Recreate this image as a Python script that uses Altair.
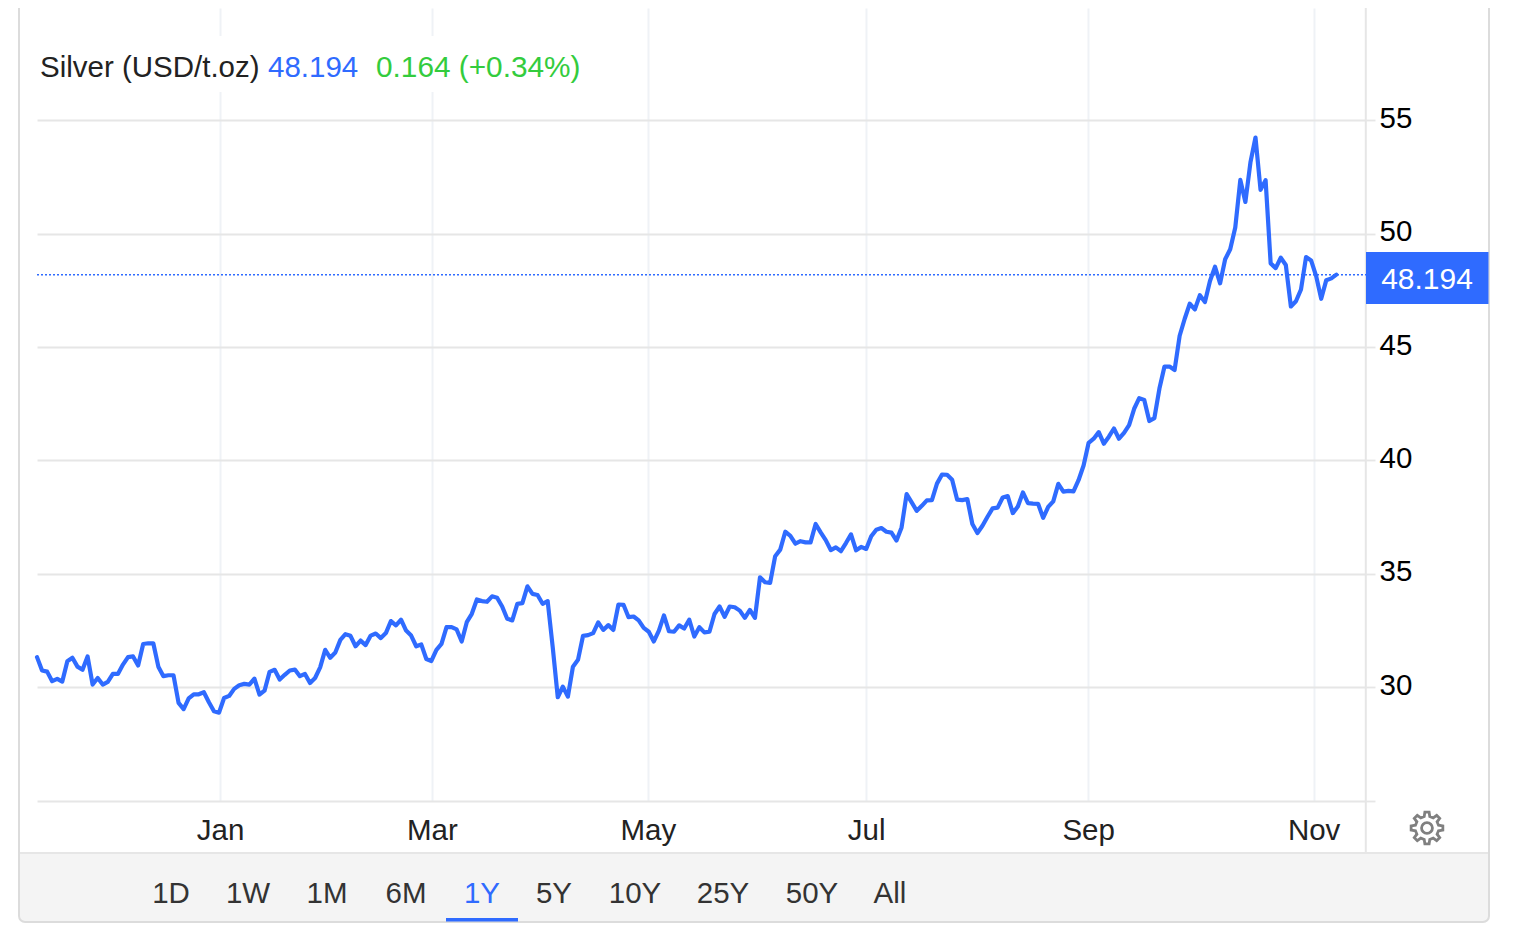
import math
import altair as alt
import pandas as pd

# ---- data -----------------------------------------------------------------
silver_close = [
    31.33, 30.74, 30.69, 30.27, 30.37, 30.25, 31.15, 31.30, 30.91, 30.77,
    31.36, 30.12, 30.41, 30.12, 30.24, 30.59, 30.59, 31.00, 31.33, 31.36,
    30.96, 31.91, 31.94, 31.94, 30.91, 30.49, 30.53, 30.53, 29.31, 29.04,
    29.51, 29.69, 29.69, 29.78, 29.34, 28.94, 28.88, 29.53, 29.62, 29.93,
    30.09, 30.15, 30.12, 30.38, 29.68, 29.85, 30.68, 30.77, 30.34, 30.55,
    30.74, 30.78, 30.49, 30.59, 30.19, 30.41, 30.88, 31.65, 31.30, 31.53,
    32.09, 32.34, 32.27, 31.81, 32.06, 31.86, 32.28,
    32.37, 32.17, 32.39, 32.92, 32.73, 32.98, 32.50, 32.28, 31.81, 31.89,
    31.25, 31.16, 31.65, 31.91, 32.65, 32.65, 32.55, 32.02, 32.87, 33.24,
    33.87, 33.80, 33.77, 34.01, 33.95, 33.56, 33.02, 32.95, 33.68, 33.71,
    34.45, 34.12, 34.07, 33.68, 33.80, 31.77, 29.56, 30.03, 29.59, 30.91,
    31.21, 32.27, 32.30, 32.39, 32.86, 32.53, 32.74, 32.53, 33.65, 33.64,
    33.09, 33.12, 32.95, 32.62, 32.45, 32.02, 32.50, 33.17, 32.47, 32.45,
    32.73, 32.59, 32.98, 32.24, 32.65,
    32.42, 32.45, 33.23, 33.56, 33.11, 33.56, 33.53, 33.38, 33.06, 33.41, 33.06,
    34.85, 34.63, 34.60, 35.78, 36.07, 36.86, 36.68, 36.33, 36.44, 36.39,
    36.39, 37.20, 36.83, 36.49, 36.05, 36.17, 36.00, 36.36, 36.74, 36.04,
    36.19, 36.10, 36.66, 36.95, 37.02, 36.86, 36.82, 36.47, 37.05, 38.52,
    38.15, 37.78, 38.00, 38.24, 38.25, 38.98, 39.38, 39.37, 39.15, 38.27,
    38.25, 38.30, 37.20, 36.80, 37.12, 37.52, 37.89, 37.92, 38.37, 38.43,
    37.68, 37.97, 38.59, 38.12,
    38.10, 38.09, 37.47, 37.95, 38.20, 38.97, 38.63, 38.66, 38.64, 39.13,
    39.78, 40.78, 40.96, 41.25, 40.74, 41.05, 41.41, 40.96, 41.22, 41.56,
    42.28, 42.75, 42.67, 41.74, 41.87, 43.17, 44.14, 44.14, 43.99,
    45.50, 46.25,
    46.91, 46.66, 47.29, 46.99, 47.91, 48.54, 47.81, 48.87, 49.31, 50.27,
    52.37, 51.40, 53.14, 54.24, 51.93, 52.36, 48.69, 48.48, 48.94, 48.62,
    46.79, 47.02, 47.54, 48.97, 48.82, 48.13, 47.13, 47.95, 48.03, 48.194,
]
last_price = 48.194
y_ticks = [25, 30, 35, 40, 45, 50, 55]
month_labels = ["Jan", "Mar", "May", "Jul", "Sep", "Nov"]
month_sessions = [36.2, 78.1, 120.8, 164.0, 207.9, 252.5]
range_labels = ["1D", "1W", "1M", "6M", "1Y", "5Y", "10Y", "25Y", "50Y", "All"]
title_parts = ["Silver (USD/t.oz)", "48.194", "0.164 (+0.34%)"]

# ---- layout / styling ------------------------------------------------------
FONT = "Liberation Sans"
FS = 29.5
BLUE = "#2f6bff"
GREEN = "#33cc3d"
GRID_H = "#e6e6e6"
GRID_V = "#eff2f6"
FRAME = "#dcdcdc"
X0, Y0, W, H = 37, 8, 1329, 792.7
range_px = [171, 248, 327, 406, 482, 554, 635, 723, 812, 890]
title_px = [40, 268, 376]
title_sizes = [FS, FS, 29.8]
title_colors = ["#222222", BLUE, GREEN]
blank = alt.Data(values=[{}])


def px(x):
    return alt.value(x - X0)


def py(y):
    return alt.value(y - Y0)


def box(x1, x2, y1, y2, **kw):
    return alt.Chart(blank).mark_rect(**kw).encode(x=px(x1), x2=px(x2), y=py(y1), y2=py(y2))


def rule(x1, x2, y1, y2, color, width=1.5):
    return alt.Chart(blank).mark_rule(color=color, strokeWidth=width).encode(
        x=px(x1), x2=px(x2), y=py(y1), y2=py(y2))


def label(text, x, y, color, align="center", size=FS):
    return alt.Chart(blank).mark_text(
        font=FONT, fontSize=size, color=color, align=align, baseline="middle"
    ).encode(x=px(x), y=py(y), text=alt.value(text))


def gear_path(teeth=8, outer=1.0, root=0.74, hole=0.34):
    pts = []
    step = 2 * math.pi / teeth
    for k in range(teeth):
        a = k * step - math.pi / 2
        for da, r in [(-0.30, root), (-0.17, outer), (0.17, outer), (0.30, root)]:
            t = a + da * step * 1.0
            pts.append((r * math.cos(t), r * math.sin(t)))
    d = "M" + " L".join(f"{x:.3f},{y:.3f}" for x, y in pts) + " Z "
    d += f"M{hole:.3f},0 A{hole:.3f},{hole:.3f} 0 1,0 {-hole:.3f},0 A{hole:.3f},{hole:.3f} 0 1,0 {hole:.3f},0 Z"
    return d


df = pd.DataFrame({"session": range(len(silver_close)), "price": silver_close})

x_enc = alt.X(
    "session:Q",
    scale=alt.Scale(domain=[0, W / 5.056], nice=False, zero=False),
    axis=alt.Axis(
        values=month_sessions,
        labelExpr=f"{month_labels}[indexof({month_sessions}, datum.value)]",
        title=None, domain=False, ticks=False, grid=True, gridColor=GRID_V, gridWidth=2,
        labelFont=FONT, labelFontSize=FS, labelColor="#222222", labelPadding=16,
        labelAngle=0, labelAlign="center", labelOverlap=False, labelFlush=False,
    ),
)
y_enc = alt.Y(
    "price:Q",
    scale=alt.Scale(domain=[25, 59.95], nice=False, zero=False),
    axis=alt.Axis(
        orient="right", values=y_ticks,
        labelExpr="datum.value == 25 ? '' : datum.label",
        title=None, domain=False, ticks=True, tickSize=9, tickColor=GRID_H, tickWidth=1.8,
        grid=True, gridColor=GRID_H, gridWidth=1.8,
        labelFont=FONT, labelFontSize=FS, labelColor="#000000", labelPadding=4,
        labelAlign="left", labelOverlap=False, labelFlush=False, labelOffset=-2,
    ),
)

price_line = alt.Chart(df).mark_line(
    color=BLUE, strokeWidth=4.2, strokeJoin="round", strokeCap="round", clip=False
).encode(x=x_enc, y=y_enc)

last_line = alt.Chart(pd.DataFrame({"price": [last_price]})).mark_rule(
    color=BLUE, strokeWidth=1.5, strokeDash=[2, 2]
).encode(y=alt.Y("price:Q"), x=alt.value(0), x2=alt.value(W))

layers = [
    box(19, 1489, 853, 922, fill="#f4f4f4", cornerRadiusBottomLeft=6, cornerRadiusBottomRight=6),
    rule(19, 1489, 853, 853, GRID_H, 2),
    box(38, 590, 36, 92, fill="#ffffff"),
    rule(1365.8, 1365.8, 8, 853, GRID_H, 2),
    box(19, 1489, -12, 922, fill="transparent", stroke=FRAME, strokeWidth=2, cornerRadius=6),
    last_line,
    price_line,
    box(1366, 1488.5, 252, 304, fill=BLUE),
    label("48.194", 1427, 280, "#ffffff", size=30),
    box(446, 518, 918, 921.5, fill=BLUE),
]
for text, x, color, size in zip(title_parts, title_px, title_colors, title_sizes):
    layers.append(label(text, x, 68.5, color, align="left", size=size))
for text, x in zip(range_labels, range_px):
    layers.append(label(text, x, 894.5, BLUE if text == "1Y" else "#333333"))
layers.append(
    alt.Chart(blank).mark_point(
        shape=gear_path(), filled=False, stroke="#808080", strokeWidth=2.8, size=1024, opacity=1
    ).encode(x=px(1427), y=py(828))
)

chart = (
    alt.layer(*layers)
    .resolve_scale(x="shared", y="shared")
    .properties(
        width=W,
        height=H,
        padding={"left": X0 - 8, "top": 0, "right": 130, "bottom": 130},
        autosize=alt.AutoSizeParams(type="none"),
        background="#ffffff",
    )
    .configure_view(stroke=None)
)

chart.save("out.html", embed_options={"renderer": "svg", "actions": False})
